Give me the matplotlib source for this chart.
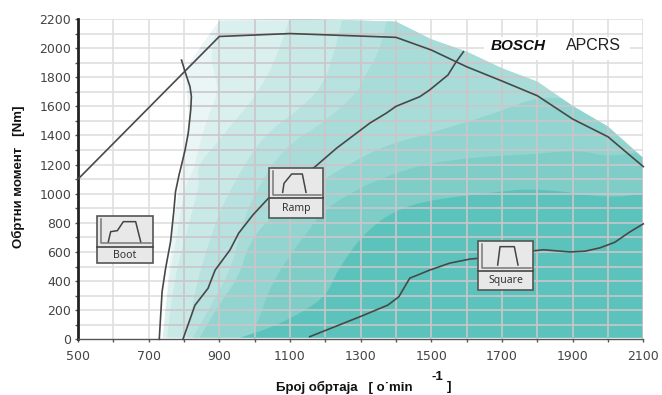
import matplotlib
matplotlib.use("Agg")
import matplotlib.pyplot as plt
from matplotlib.patches import Polygon, Rectangle
import numpy as np

W, H = 662, 395
plt.rcParams['font.family'] = ['DejaVu Sans']

# curves
full_x = [500, 900, 1100, 1400, 1500, 1600, 1700, 1800, 1900, 2000, 2100]
full_y = [1100, 2080, 2100, 2074, 1987, 1872, 1774, 1673, 1513, 1391, 1186]
boot_x = [793, 803, 817, 821, 819, 812, 803, 793, 786, 776, 771, 762, 748, 738, 730]
boot_y = [1918, 1838, 1735, 1666, 1575, 1416, 1300, 1197, 1129, 1014, 876, 670, 488, 327, 0]
ramp_x = [797, 831, 868, 888, 930, 955, 995, 1037, 1100, 1170, 1232, 1326, 1373, 1400, 1467, 1495, 1547, 1570, 1591]
ramp_y = [0, 234, 350, 475, 613, 730, 854, 964, 1080, 1183, 1313, 1485, 1554, 1600, 1666, 1712, 1815, 1905, 1975]
square_x = [1156, 1298, 1377, 1408, 1439, 1467, 1495, 1552, 1609, 1632, 1788, 1817, 1892, 1935, 1977, 2019, 2061, 2100]
square_y = [18, 155, 235, 292, 420, 447, 475, 523, 551, 556, 607, 615, 600, 605, 628, 666, 736, 793]

# efficiency map bands: outer envelope, then nested band edges
env_x = [740, 755, 770, 790, 797, 815, 803, 850, 900, 1100, 1400, 1500, 1600, 1700, 1800, 1900, 2000, 2100, 2100]
env_y = [12, 400, 800, 1100, 1200, 1500, 1850, 2020, 2190, 2205, 2181, 2060, 1975, 1861, 1769, 1602, 1460, 1243, 12]

band_edges = [
    ([740, 755, 780, 803, 825, 845, 868, 896, 888, 873, 900],
     [12, 370, 716, 1060, 1140, 1345, 1529, 1700, 1815, 1950, 2190]),
    ([752, 769, 797, 826, 845, 836, 893, 938, 987, 1052, 1100],
     [12, 352, 648, 900, 1080, 1185, 1348, 1485, 1620, 1870, 2210]),
    ([808, 836, 893, 938, 1023, 1137, 1198, 1232, 1250],
     [12, 394, 833, 1060, 1400, 1600, 1760, 2035, 2210]),
    ([825, 882, 938, 967, 1034, 1100, 1193, 1290, 1306, 1354, 1376],
     [12, 255, 510, 833, 1150, 1348, 1485, 1690, 1780, 1985, 2210]),
    ([845, 893, 958, 978, 1023, 1071, 1199, 1326, 1391, 1495, 1685, 1798, 1900],
     [12, 215, 440, 625, 785, 874, 1108, 1280, 1345, 1415, 1555, 1665, 1650]),
    ([990, 1006, 1050, 1137, 1200, 1306, 1400, 1495, 1637, 1780, 1920, 1997, 2100],
     [12, 100, 400, 700, 900, 1050, 1142, 1210, 1253, 1270, 1300, 1253, 1290]),
    ([960, 1043, 1137, 1204, 1232, 1298, 1374, 1467, 1640, 1800, 2000, 2100],
     [12, 77, 188, 304, 462, 696, 854, 945, 1000, 1040, 970, 1000]),
]
env_color = '#eaf6f5'
band_colors = ['#daf0ee', '#c8e9e6', '#b8e2df', '#a8dcd8', '#92d4cf', '#7fcdc7', '#5cc3bc']

y_tick_values = list(range(0, 2201, 200))
x_tick_values = list(range(500, 2101, 200))

# icons
boot_profile = [(55, 95), (62, 65), (82, 62), (100, 35), (137, 35), (152, 95)]
ramp_profile = [(68, 97), (72, 70), (95, 42), (127, 42), (138, 97)]
square_profile = [(503, 210), (510, 155), (553, 155), (564, 210)]


def smooth(xs, ys, n=2):
    p = np.column_stack([xs, ys]).astype(float)
    for _ in range(n):
        q = [p[0]]
        for a, b in zip(p[:-1], p[1:]):
            q += [0.75 * a + 0.25 * b, 0.25 * a + 0.75 * b]
        q.append(p[-1])
        p = np.array(q)
    return p


fig = plt.figure(figsize=(W / 100, H / 100), dpi=100, facecolor='white')
L, R, T, B = 78, 643.3, 19, 339.3
ax = fig.add_axes([L / W, 1 - B / H, (R - L) / W, (B - T) / H])
ax.set_xlim(500, 2100)
ax.set_ylim(0, 2200)
ax.set_facecolor('white')

# light grid on white
for v in range(600, 2101, 100):
    ax.axvline(v, color='#dfdfdf', lw=1.2, zorder=1)
for v in range(100, 2201, 100):
    ax.axhline(v, color='#dfdfdf', lw=1.2, zorder=1)

# bands
env = Polygon(np.column_stack([env_x, env_y]), closed=True, fc=env_color, ec='none', zorder=2)
ax.add_patch(env)
clip = Polygon(np.column_stack([env_x, env_y]), closed=True, transform=ax.transData)
for (bx, by), c in zip(band_edges, band_colors):
    pts = smooth(bx, by)
    if by[-1] >= 2190:
        tail = [[2150, by[-1]], [2150, 0], [bx[0], 0]]
    else:
        tail = [[2150, by[-1]], [2150, 0], [bx[0], 0]]
    poly = Polygon(np.vstack([pts, tail]), closed=True, fc=c, ec='none', zorder=3)
    ax.add_patch(poly)
    poly.set_clip_path(clip)

# darker grid over the map
for v in range(600, 2101, 100):
    l = ax.axvline(v, color='#cbc6ca', lw=1.2, zorder=4)
    l.set_clip_path(clip)
for v in range(100, 2201, 100):
    l = ax.axhline(v, color='#cbc6ca', lw=1.2, zorder=4)
    l.set_clip_path(clip)

# curves
for xs, ys in [(full_x, full_y), (boot_x, boot_y), (ramp_x, ramp_y), (square_x, square_y)]:
    ax.plot(xs, ys, color='#484848', lw=1.2, zorder=5, solid_joinstyle='round', clip_on=False)

# axes styling
for s in ['top', 'right']:
    ax.spines[s].set_visible(False)
ax.spines['left'].set_linewidth(2)
ax.spines['left'].set_color('#222222')
ax.spines['bottom'].set_linewidth(1)
ax.spines['bottom'].set_color('#555555')
ax.set_xticks(x_tick_values)
ax.set_yticks(y_tick_values)
ax.set_xticks(range(500, 2101, 100), minor=True)
ax.set_yticks(range(0, 2201, 100), minor=True)
ax.tick_params(axis='both', which='major', length=2, width=1, color='#555555',
               labelsize=9, labelcolor='#444444', pad=3)
ax.tick_params(axis='both', which='minor', length=2, width=1, color='#555555')
ax.tick_params(axis='x', which='major', pad=6)

# overlay in pixel coordinates
ov = fig.add_axes([0, 0, 1, 1], facecolor='none')
ov.set_xlim(0, W)
ov.set_ylim(H, 0)
ov.axis('off')

# logo
ov.add_patch(Rectangle((484, 37), 146, 23, fc='white', ec='none', zorder=6))
ov.text(491, 46, 'BOSCH', family='Liberation Sans', weight='bold', style='italic',
        fontsize=11, color='#111111', va='center', ha='left', zorder=7)
ov.text(566, 46, 'APCRS', family='Liberation Sans', fontsize=11.5, color='#222222',
        va='center', ha='left', zorder=7)


def icon(x0, y0, x1, y1, div, prof, ox, oy, ax_x, base_y, label):
    ov.add_patch(Rectangle((x0, y0), x1 - x0, y1 - y0, fc='#e8e8e8', ec='#555555', lw=1.2, zorder=8))
    ov.plot([x0, x1], [div, div], color='#444444', lw=1.2, zorder=9)
    ov.plot([ax_x, ax_x, x1 - 2], [y0 + 3, base_y, base_y], color='#777777', lw=1.1, zorder=9)
    px = [ox + a / 3 for a, b in prof]
    py = [oy + b / 3 for a, b in prof]
    ov.plot(px, py, color='#444444', lw=1.1, zorder=10)
    ov.text((x0 + x1) / 2, (div + y1) / 2 + 0.5, label, family='Noto Sans', weight='bold',
            fontsize=7.5, color='#333333', ha='center', va='center', zorder=10)


icon(97, 216, 152.5, 263, 247, boot_profile, 90, 210, 101, 243, 'Boot')
icon(269, 168, 323, 218, 198, ramp_profile, 260, 160, 272.5, 195, 'Ramp')
icon(478, 241, 533, 290, 271, square_profile, 330, 195, 482, 268, 'Square')

# axis titles
ov.text(18, 177, 'Обртни момент   [Nm]', rotation=90, family='Liberation Sans', weight='bold',
        fontsize=9.5, color='#111111', ha='center', va='center')
ov.text(276, 387, 'Број обртаја   [ o˙min', family='Liberation Sans', weight='bold',
        fontsize=9.5, color='#111111', ha='left', va='center')
ov.text(432, 377, '-1', family='Liberation Sans', weight='bold', fontsize=9.5,
        color='#111111', ha='left', va='center')
ov.text(447, 387, ']', family='Liberation Sans', weight='bold', fontsize=9.5,
        color='#111111', ha='left', va='center')

fig.savefig('out.png', dpi=100, facecolor='white')
